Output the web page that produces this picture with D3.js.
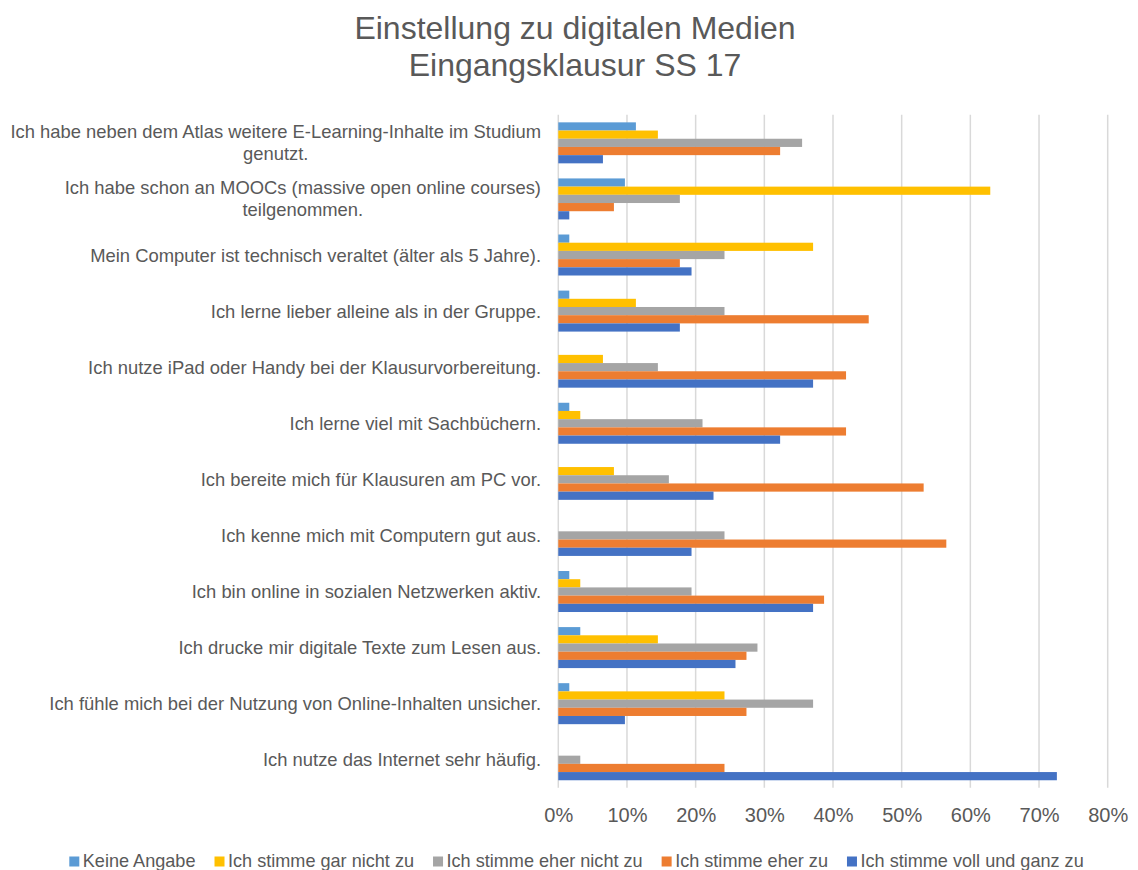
<!DOCTYPE html>
<html>
<head>
<meta charset="utf-8">
<script src="https://cdn.jsdelivr.net/npm/d3@7"></script>
<style>
  html, body { margin: 0; padding: 0; background: #fff; }
  svg text { font-family: "Liberation Sans", Arial, sans-serif; fill: #595959; }
</style>
</head>
<body>
<svg id="chart" width="1138" height="870"></svg>
<script>
// ---- data ----
const titleLines = ["Einstellung zu digitalen Medien", "Eingangsklausur SS 17"];

const categories = [
  "Ich habe neben dem Atlas weitere E-Learning-Inhalte im Studium\ngenutzt.",
  "Ich habe schon an MOOCs (massive open online courses)\nteilgenommen.",
  "Mein Computer ist technisch veraltet (älter als 5 Jahre).",
  "Ich lerne lieber alleine als in der Gruppe.",
  "Ich nutze iPad oder Handy bei der Klausurvorbereitung.",
  "Ich lerne viel mit Sachbüchern.",
  "Ich bereite mich für Klausuren am PC vor.",
  "Ich kenne mich mit Computern gut aus.",
  "Ich bin online in sozialen Netzwerken aktiv.",
  "Ich drucke mir digitale Texte zum Lesen aus.",
  "Ich fühle mich bei der Nutzung von Online-Inhalten unsicher.",
  "Ich nutze das Internet sehr häufig."
];

const seriesNames = [
  "Keine Angabe",
  "Ich stimme gar nicht zu",
  "Ich stimme eher nicht zu",
  "Ich stimme eher zu",
  "Ich stimme voll und ganz zu"
];

// percentages, same order as categories
const keineAngabe   = [11.3, 9.7, 1.6, 1.6, 0,    1.6,  0,    0,    1.6,  3.2,  1.6,  0];
const garNicht      = [14.5, 62.9, 37.1, 11.3, 6.5, 3.2,  8.1,  0,    3.2,  14.5, 24.2, 0];
const eherNicht     = [35.5, 17.7, 24.2, 24.2, 14.5, 21.0, 16.1, 24.2, 19.4, 29.0, 37.1, 3.2];
const eherZu        = [32.3, 8.1, 17.7, 45.2, 41.9, 41.9, 53.2, 56.5, 38.7, 27.4, 27.4, 24.2];
const vollUndGanz   = [6.5,  1.6, 19.4, 17.7, 37.1, 32.3, 22.6, 19.4, 37.1, 25.8, 9.7,  72.6];

const seriesValues = [keineAngabe, garNicht, eherNicht, eherZu, vollUndGanz];
const colors = ["#5B9BD5", "#FFC000", "#A5A5A5", "#ED7D31", "#4472C4"];
const xTicks = [0, 10, 20, 30, 40, 50, 60, 70, 80];

// ---- layout ----
const svg = d3.select("#chart");
const plot = { left: 558.3, right: 1107.7, top: 114.8, bottom: 787.8 };

const x = d3.scaleLinear().domain([0, 80]).range([plot.left, plot.right]);
const y = d3.scaleBand().domain(d3.range(categories.length))
  .range([plot.top, plot.bottom]).paddingInner(0.269).paddingOuter(0.1345);
const yInner = d3.scaleBand().domain(d3.range(seriesNames.length))
  .range([0, y.bandwidth()]).padding(0);

// title
svg.append("g").selectAll("text").data(titleLines).join("text")
  .attr("x", 575).attr("y", (d, i) => 38.5 + i * 37.5)
  .attr("text-anchor", "middle").style("font-size", "32px").text(d => d);

// gridlines
svg.append("g").selectAll("line").data(xTicks).join("line")
  .attr("x1", d => x(d)).attr("x2", d => x(d))
  .attr("y1", plot.top).attr("y2", plot.bottom)
  .attr("stroke", "#d9d9d9").attr("stroke-width", 1.5);

// x axis (tick labels only)
const xAxis = d3.axisBottom(x).tickValues(xTicks).tickSize(0).tickPadding(0)
  .tickFormat(d => d + "%");
const gx = svg.append("g").attr("transform", `translate(0, ${plot.bottom})`).call(xAxis);
gx.select(".domain").remove();
gx.selectAll("text").attr("dy", null).attr("y", 34).style("font-size", "20px")
  .style("font-family", "'Liberation Sans', Arial, sans-serif").attr("fill", "#595959");

// bars
const groups = svg.append("g").selectAll("g").data(categories).join("g")
  .attr("transform", (d, i) => `translate(0, ${y(i)})`);
groups.each(function(cat, ci) {
  d3.select(this).selectAll("rect")
    .data(seriesValues.map((vals, si) => ({ si, v: vals[ci] })))
    .join("rect")
    .attr("x", x(0))
    .attr("y", d => yInner(d.si))
    .attr("width", d => x(d.v) - x(0))
    .attr("height", yInner.bandwidth())
    .attr("fill", d => colors[d.si]);
});

// category labels
const labelRight = 541;
const lineH = 22;
categories.forEach((cat, ci) => {
  const lines = cat.split("\n");
  const cy = y(ci) + y.bandwidth() / 2;
  const t = svg.append("text").style("font-size", "18.4px").attr("text-anchor", "middle");
  const tspans = lines.map((ln, li) =>
    t.append("tspan").attr("y", cy + 6.5 + (li - (lines.length - 1) / 2) * lineH).text(ln));
  const w = d3.max(tspans, s => s.node().getComputedTextLength());
  tspans.forEach(s => s.attr("x", labelRight - w / 2));
});

// legend
const legend = svg.append("g");
let lx = 69.3;
const baseY = 866.5;
seriesNames.forEach((name, si) => {
  legend.append("rect").attr("x", lx).attr("y", baseY - 10).attr("width", 10).attr("height", 10)
    .attr("fill", colors[si]);
  const txt = legend.append("text").attr("x", lx + 13.5).attr("y", baseY)
    .style("font-size", "18.1px").text(name);
  lx += 13.5 + txt.node().getComputedTextLength() + 19;
});
</script>
</body>
</html>
